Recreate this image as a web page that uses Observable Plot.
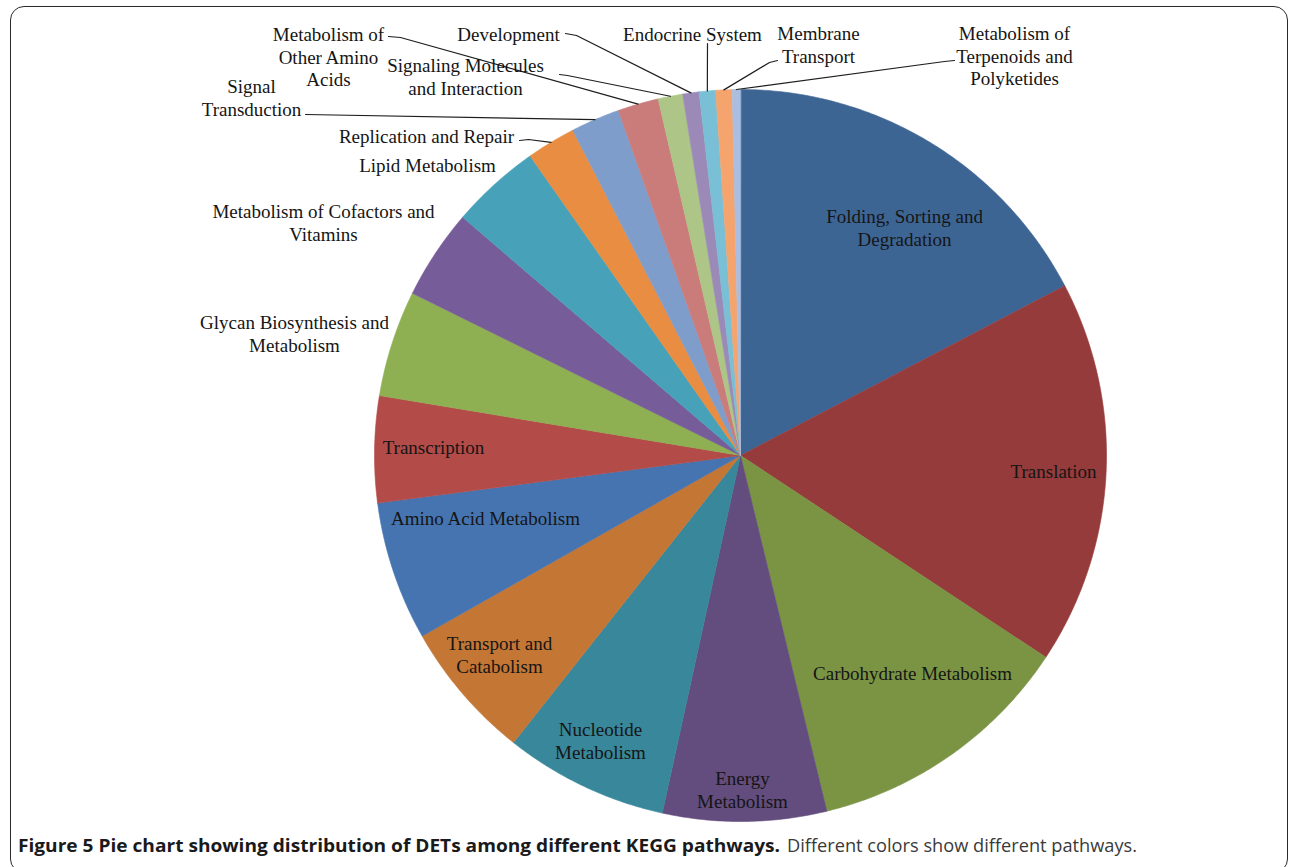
<!DOCTYPE html>
<html>
<head>
<meta charset="utf-8">
<script src="https://cdn.jsdelivr.net/npm/d3@7"></script>
<script src="https://cdn.jsdelivr.net/npm/@observablehq/plot@0.6"></script>
<style>
  html, body { margin: 0; padding: 0; background: #fff; }
  #wrap { position: relative; width: 1292px; height: 867px; overflow: hidden; background: #fff; }
  #frame { position: absolute; left: 10px; top: 6px; width: 1278px; height: 867px;
           border: 1.6px solid #2a2a2a; border-radius: 14px; box-sizing: border-box; }
  #chart { position: absolute; left: 0; top: 0; }
  #caption { position: absolute; left: 0; top: 828px; }
</style>
</head>
<body>
<div id="wrap">
  <div id="frame"></div>
  <div id="chart"></div>
  <div id="caption"></div>
</div>
<script>
// ---------- data ----------
const categories = [
  "Folding, Sorting and Degradation", "Translation", "Carbohydrate Metabolism",
  "Energy Metabolism", "Nucleotide Metabolism", "Transport and Catabolism",
  "Amino Acid Metabolism", "Transcription", "Glycan Biosynthesis and Metabolism",
  "Metabolism of Cofactors and Vitamins", "Lipid Metabolism", "Replication and Repair",
  "Signal Transduction", "Metabolism of Other Amino Acids",
  "Signaling Molecules and Interaction", "Development", "Endocrine System",
  "Membrane Transport", "Metabolism of Terpenoids and Polyketides"
];
const counts = [48, 47, 33, 20, 20, 17, 17, 13, 13, 11, 11, 6, 6, 5, 3, 2, 2, 2, 1];
const labelTexts = [
  "Folding, Sorting and\nDegradation", "Translation", "Carbohydrate Metabolism",
  "Energy\nMetabolism", "Nucleotide\nMetabolism", "Transport and\nCatabolism",
  "Amino Acid Metabolism", "Transcription", "Glycan Biosynthesis and\nMetabolism",
  "Metabolism of Cofactors and\nVitamins", "Lipid Metabolism", "Replication and Repair",
  "Signal\nTransduction", "Metabolism of\nOther Amino\nAcids",
  "Signaling Molecules\nand Interaction", "Development", "Endocrine System",
  "Membrane\nTransport", "Metabolism of\nTerpenoids and\nPolyketides"
];
const sliceColors = [
  "#3d6594", "#953b3b", "#7b9444", "#634c7e", "#39879a", "#c47635",
  "#4674b0", "#b34b48", "#8faf53", "#775c9a", "#46a1b9", "#e88d41",
  "#7f9dca", "#ca7c7b", "#adc687", "#9b8ab8", "#79bfd5", "#f5a46e", "#a9bee0"
];

// ---------- layout (pixels) ----------
const CX = 740, CY = 455, R = 366;
const labelPos = [
  [904, 227], [1053, 470], [912, 672], [742, 789], [600, 740], [499, 654],
  [485, 517], [433, 446], [294, 333], [323, 222], [427, 164], [426, 135],
  [251, 97], [328, 56], [465, 76], [508, 33], [692, 33], [818, 44], [1014, 55]
];
// leader line start points (near the label); null = label inside slice
const leaderStart = [
  null, null, null, null, null, null, null, null, null, null, null,
  [[519, 140], [528, 139]],
  [[305, 114]],
  [[388, 36], [400, 37]],
  [[559, 74], [567, 75]],
  [[565, 33], [576, 35]],
  [[707, 43]],
  [[777, 60], [769, 62]],
  [[954, 60], [944, 61]]
];

const ux = px => (px - CX) / R;
const uy = py => (CY - py) / R;

// ---------- geometry from data ----------
const arcs = d3.pie().sort(null).value(d => d)(counts);
const slicePts = [];
arcs.forEach((a, i) => {
  const name = categories[i];
  slicePts.push({name, x: 0, y: 0});
  const steps = Math.max(2, Math.ceil((a.endAngle - a.startAngle) / (Math.PI / 360)));
  for (let k = 0; k <= steps; k++) {
    const t = a.startAngle + (a.endAngle - a.startAngle) * k / steps;
    slicePts.push({name, x: Math.sin(t), y: Math.cos(t)});
  }
});

const labels = categories.map((c, i) => ({
  name: c, text: labelTexts[i], x: ux(labelPos[i][0]), y: uy(labelPos[i][1])
}));

const leaderPts = [];
arcs.forEach((a, i) => {
  if (!leaderStart[i]) return;
  const name = categories[i];
  leaderStart[i].forEach(p => leaderPts.push({name, x: ux(p[0]), y: uy(p[1])}));
  const m = (a.startAngle + a.endAngle) / 2;
  leaderPts.push({name, x: Math.sin(m), y: Math.cos(m)});
});

const plot = Plot.plot({
  width: 1292,
  height: 828,
  margin: 0,
  style: {background: "transparent"},
  x: {domain: [-1, 1], range: [CX - R, CX + R], axis: null},
  y: {domain: [-1, 1], range: [CY + R, CY - R], axis: null},
  color: {domain: categories, range: sliceColors},
  marks: [
    Plot.line(slicePts, {x: "x", y: "y", z: "name", fill: "name", stroke: "name",
      strokeWidth: 0.6, curve: "linear-closed"}),
    Plot.line(leaderPts, {x: "x", y: "y", z: "name", stroke: "#1e1e1e", strokeWidth: 1.2}),
    Plot.text(labels, {x: "x", y: "y", text: "text", fontFamily: "Liberation Serif",
      fontSize: 19, lineHeight: 1.18, fill: "#151515"})
  ]
});
document.getElementById("chart").appendChild(plot);

// ---------- caption ----------
const cap = d3.select("#caption").append("svg").attr("width", 1292).attr("height", 39);
cap.append("text").attr("x", 18).attr("y", 24)
  .attr("font-family", "Open Sans").attr("font-weight", "bold").attr("font-size", 18)
  .attr("fill", "#1a1a1a").attr("textLength", 762).attr("lengthAdjust", "spacingAndGlyphs")
  .text("Figure 5 Pie chart showing distribution of DETs among different KEGG pathways.");
cap.append("text").attr("x", 787).attr("y", 24)
  .attr("font-family", "Open Sans").attr("font-size", 18)
  .attr("fill", "#3a3a3a").attr("textLength", 350).attr("lengthAdjust", "spacingAndGlyphs")
  .text("Different colors show different pathways.");
</script>
</body>
</html>
